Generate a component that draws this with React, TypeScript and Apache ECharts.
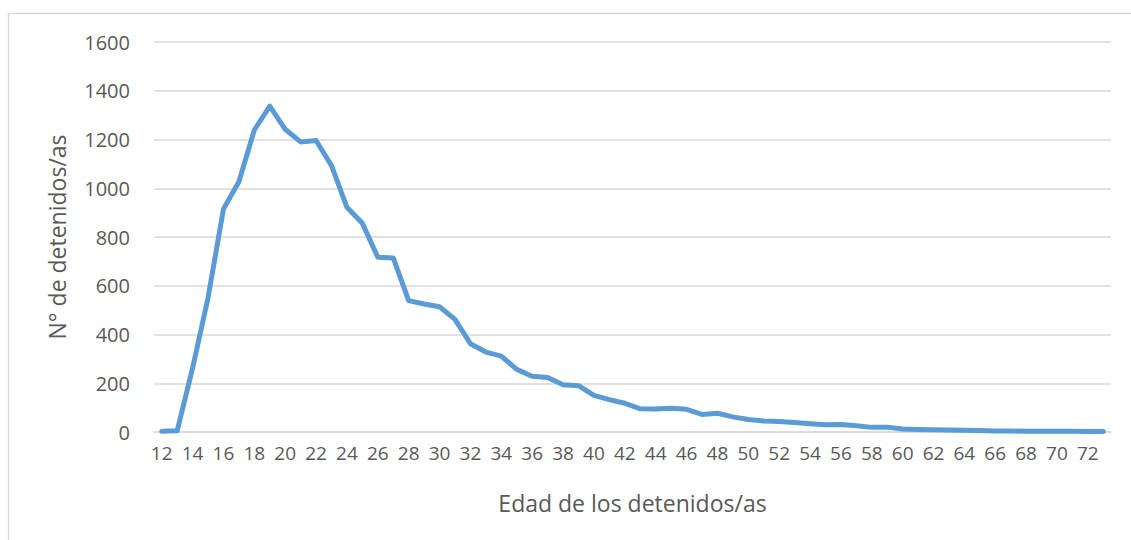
import React, { useEffect, useRef } from "react";
import * as echarts from "echarts";

const ages: string[] = [];
for (let a = 12; a <= 73; a++) ages.push(String(a));

const detenidos = [
  3, 5, 262, 550, 915, 1027, 1239, 1337, 1242, 1190, 1196, 1093, 922, 856, 717, 714,
  539, 525, 514, 462, 362, 328, 311, 257, 229, 224, 194, 190, 150, 133, 118, 95,
  94, 97, 93, 72, 77, 62, 51, 45, 43, 39, 34, 30, 31, 26, 19, 20, 12, 10,
  9, 8, 7, 6, 4, 4, 3, 3, 3, 3, 2, 2,
];

const yTicks = { min: 0, max: 1600, interval: 200 };
const xTitle = "Edad de los detenidos/as";
const yTitle = "N° de detenidos/as";

export default function App() {
  const ref = useRef<HTMLDivElement>(null);
  useEffect(() => {
    const chart = echarts.init(ref.current!, null, { renderer: "svg" });
    const font = "'Open Sans', sans-serif";
    chart.setOption({
      animation: false,
      backgroundColor: "#ffffff",
      graphic: [
        {
          type: "rect",
          shape: { x: 8.5, y: 13.5, width: 1140, height: 560 },
          style: { fill: "none", stroke: "#d9d9d9", lineWidth: 1.5 },
          silent: true,
        },
      ],
      grid: { left: 154, right: 20, top: 42, bottom: 108 },
      xAxis: {
        type: "category",
        data: ages,
        boundaryGap: true,
        name: xTitle,
        nameLocation: "middle",
        nameGap: 59,
        nameTextStyle: { color: "#595959", fontSize: 23, fontFamily: font },
        axisLine: { show: true, lineStyle: { color: "#d9d9d9", width: 1.5 } },
        axisTick: { show: false },
        axisLabel: {
          interval: 1,
          color: "#595959",
          fontSize: 19,
          fontFamily: font,
          margin: 11,
        },
      },
      yAxis: {
        type: "value",
        min: yTicks.min,
        max: yTicks.max,
        interval: yTicks.interval,
        name: yTitle,
        nameLocation: "middle",
        nameGap: 86,
        nameTextStyle: { color: "#595959", fontSize: 23, fontFamily: font },
        axisLine: { show: false },
        axisTick: { show: false },
        axisLabel: {
          color: "#595959",
          fontSize: 20,
          fontFamily: font,
          margin: 24,
          formatter: (v: number) => String(v),
        },
        splitLine: { lineStyle: { color: "#d9d9d9", width: 1.5 } },
      },
      series: [
        {
          type: "line",
          data: detenidos,
          symbol: "none",
          smooth: false,
          lineStyle: { color: "#5b9bd5", width: 5, cap: "round", join: "round" },
        },
      ],
    });
    return () => chart.dispose();
  }, []);
  return (
    <div
      ref={ref}
      style={{ position: "fixed", left: 0, top: 0, width: 1131, height: 540 }}
    />
  );
}
